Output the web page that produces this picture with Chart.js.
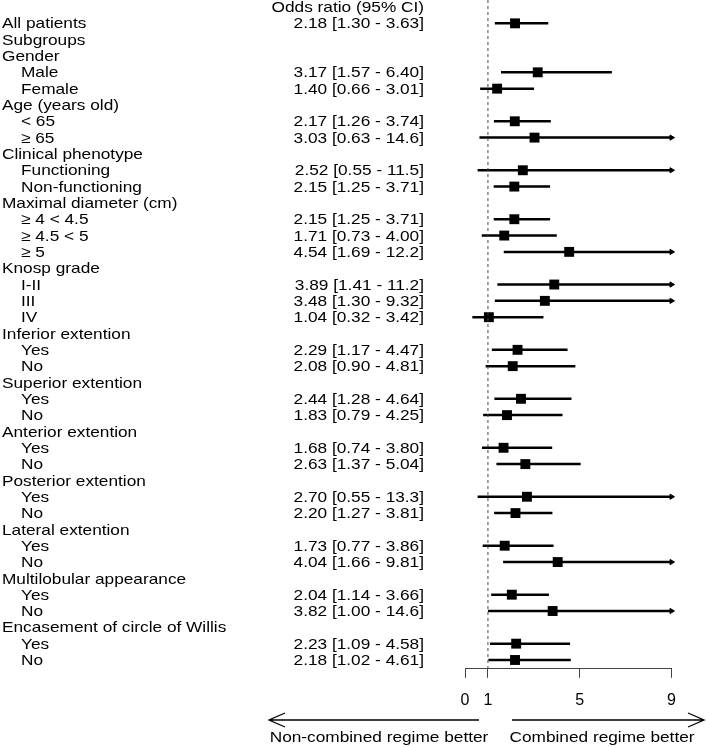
<!DOCTYPE html>
<html>
<head>
<meta charset="utf-8">
<script src="https://cdn.jsdelivr.net/npm/chart.js@4"></script>
<style>
  body { margin: 0; background: #fff; }
  canvas { display: block; }
</style>
</head>
<body>
<canvas id="forest" width="706" height="747"></canvas>
<script>
// rows of the forest plot, top to bottom (row 0 is the column header)
const rowLabels = [
  "", "All patients", "Subgroups",
  "Gender", "Male", "Female",
  "Age (years old)", "< 65", "≥ 65",
  "Clinical phenotype", "Functioning", "Non-functioning",
  "Maximal diameter (cm)", "≥ 4 < 4.5", "≥ 4.5 < 5", "≥ 5",
  "Knosp grade", "I-II", "III", "IV",
  "Inferior extention", "Yes", "No",
  "Superior extention", "Yes", "No",
  "Anterior extention", "Yes", "No",
  "Posterior extention", "Yes", "No",
  "Lateral extention", "Yes", "No",
  "Multilobular appearance", "Yes", "No",
  "Encasement of circle of Willis", "Yes", "No"
];
// indented subgroup rows
const subRow = [
  false, false, false,
  false, true, true,
  false, true, true,
  false, true, true,
  false, true, true, true,
  false, true, true, true,
  false, true, true,
  false, true, true,
  false, true, true,
  false, true, true,
  false, true, true,
  false, true, true,
  false, true, true
];

const oddsRatio = [null, 2.18, null, null, 3.17, 1.40, null, 2.17, 3.03, null, 2.52, 2.15,
  null, 2.15, 1.71, 4.54, null, 3.89, 3.48, 1.04, null, 2.29, 2.08, null, 2.44, 1.83,
  null, 1.68, 2.63, null, 2.70, 2.20, null, 1.73, 4.04, null, 2.04, 3.82, null, 2.23, 2.18];
const ciLow = [null, 1.30, null, null, 1.57, 0.66, null, 1.26, 0.63, null, 0.55, 1.25,
  null, 1.25, 0.73, 1.69, null, 1.41, 1.30, 0.32, null, 1.17, 0.90, null, 1.28, 0.79,
  null, 0.74, 1.37, null, 0.55, 1.27, null, 0.77, 1.66, null, 1.14, 1.00, null, 1.09, 1.02];
const ciHigh = [null, 3.63, null, null, 6.40, 3.01, null, 3.74, 14.6, null, 11.5, 3.71,
  null, 3.71, 4.00, 12.2, null, 11.2, 9.32, 3.42, null, 4.47, 4.81, null, 4.64, 4.25,
  null, 3.80, 5.04, null, 13.3, 3.81, null, 3.86, 9.81, null, 3.66, 14.6, null, 4.58, 4.61];

const xTicks = [0, 1, 5, 9];
const xMax = 9;
const header = "Odds ratio (95% CI)";
const leftNote = "Non-combined regime better";
const rightNote = "Combined regime better";

const FONT = '15px "Liberation Sans", Arial, sans-serif';
const SX = 1.15;

const fmt = (v) => (v >= 10 ? v.toFixed(1) : v.toFixed(2));

const ciPts = [];
const arrowPts = [];
const orPts = [];
oddsRatio.forEach((v, i) => {
  if (v === null) return;
  ciPts.push({ x: ciLow[i], y: i }, { x: Math.min(ciHigh[i], xMax), y: i }, { x: null, y: null });
  if (ciHigh[i] > xMax) arrowPts.push({ x: xMax, y: i });
  orPts.push({ x: v, y: i });
});

function stretchText(ctx, s, x, y, align) {
  ctx.save();
  ctx.translate(x, y);
  ctx.scale(SX, 1);
  ctx.textAlign = align;
  ctx.fillText(s, 0, 0);
  ctx.restore();
}

const textColumns = {
  id: "textColumns",
  afterDraw(chart) {
    const ctx = chart.ctx;
    const ys = chart.scales.y;
    ctx.save();
    ctx.fillStyle = "#000";
    ctx.font = FONT;
    ctx.textBaseline = "middle";
    rowLabels.forEach((l, i) => {
      const y = ys.getPixelForValue(i) + 1;
      if (i === 0) {
        stretchText(ctx, header, 424, y, "right");
        return;
      }
      stretchText(ctx, l, subRow[i] ? 21 : 2, y, "left");
      if (oddsRatio[i] !== null) {
        const s = fmt(oddsRatio[i]) + " [" + fmt(ciLow[i]) + " - " + fmt(ciHigh[i]) + "]";
        stretchText(ctx, s, 424, y, "right");
      }
    });

    // direction arrows under the axis
    ctx.strokeStyle = "#000";
    ctx.lineWidth = 1.3;
    const ay = 720;
    ctx.beginPath();
    ctx.moveTo(479, ay); ctx.lineTo(269, ay);
    ctx.moveTo(285, ay - 7); ctx.lineTo(269, ay); ctx.lineTo(285, ay + 7);
    ctx.moveTo(512, ay); ctx.lineTo(704, ay);
    ctx.moveTo(688, ay - 7); ctx.lineTo(704, ay); ctx.lineTo(688, ay + 7);
    ctx.stroke();
    stretchText(ctx, leftNote, 379, 738, "center");
    stretchText(ctx, rightNote, 602, 738, "center");
    ctx.restore();
  }
};

new Chart(document.getElementById("forest").getContext("2d"), {
  type: "scatter",
  data: {
    datasets: [
      {
        type: "line",
        data: [{ x: 1, y: -0.43 }, { x: 1, y: 40.54 }],
        borderColor: "#444",
        borderWidth: 1,
        borderDash: [3, 3],
        pointRadius: 0,
      },
      {
        type: "line",
        data: ciPts,
        borderColor: "#000",
        borderWidth: 2.5,
        pointRadius: 0,
        spanGaps: false,
        clip: false,
      },
      {
        data: arrowPts,
        pointStyle: "triangle",
        rotation: 90,
        pointRadius: 3,
        backgroundColor: "#000",
        borderColor: "#000",
        borderWidth: 1,
        clip: false,
      },
      {
        data: orPts,
        pointStyle: "rect",
        pointRadius: 7,
        backgroundColor: "#000",
        borderColor: "#000",
        borderWidth: 0,
        clip: false,
      },
    ],
  },
  options: {
    responsive: false,
    animation: false,
    devicePixelRatio: 1,
    layout: { autoPadding: false, padding: { left: 465, right: 34.5, top: 0, bottom: 24 } },
    plugins: { legend: { display: false }, tooltip: { enabled: false } },
    scales: {
      x: {
        type: "linear",
        min: 0,
        max: xMax,
        afterBuildTicks: (scale) => {
          scale.ticks = xTicks.map((v) => ({ value: v }));
        },
        grid: { drawOnChartArea: false, drawTicks: true, tickLength: 9, color: "#444" },
        border: { display: true, color: "#444" },
        ticks: { color: "#000", padding: 13, maxRotation: 0, font: { size: 16, family: '"Liberation Sans", Arial, sans-serif' } },
      },
      y: {
        type: "linear",
        reverse: true,
        min: -0.43,
        max: 40.54,
        display: false,
      },
    },
  },
  plugins: [textColumns],
});
</script>
</body>
</html>
